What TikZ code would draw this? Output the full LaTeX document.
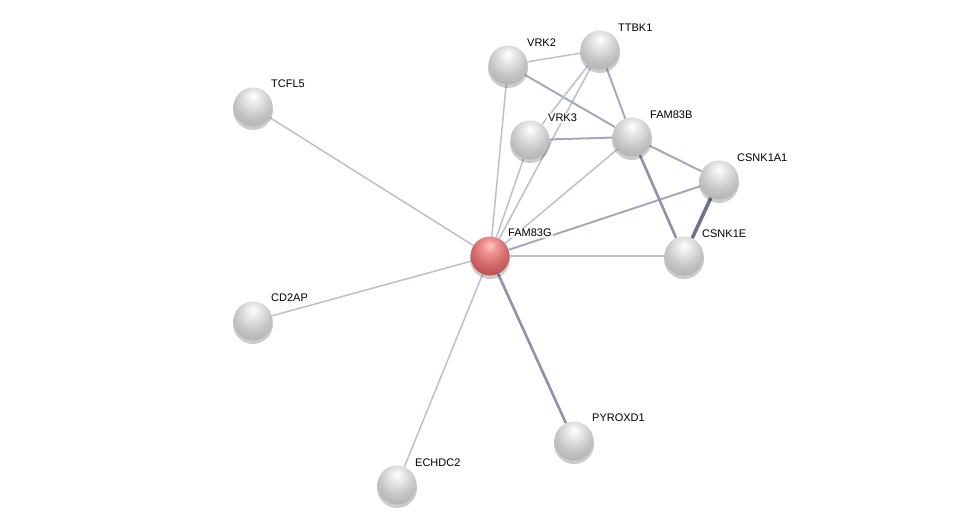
\documentclass[tikz,border=0pt]{standalone}
\usepackage{fontspec}
\setmainfont{Liberation Sans}
\usetikzlibrary{backgrounds}
\pgfdeclareradialshading{greysphere}{\pgfpoint{0bp}{14bp}}{%
  color(0bp)=(white); color(8bp)=(white!92!black); color(22bp)=(white!78!black);
  color(40bp)=(white!66!black); color(56bp)=(white!50!black); color(80bp)=(white!45!black)}
\pgfdeclareradialshading{redsphere}{\pgfpoint{0bp}{14bp}}{%
  color(0bp)=(red!20!white); color(8bp)=(red!38!white!95!black); color(22bp)=(red!50!white!82!black);
  color(40bp)=(red!60!white!68!black); color(56bp)=(red!65!white!50!black); color(80bp)=(red!65!white!45!black)}
\tikzset{
  prot/.style={circle, minimum size=39pt, inner sep=0pt, shading=greysphere},
  protred/.style={circle, minimum size=39pt, inner sep=0pt, shading=redsphere},
  lbl/.style={anchor=west, font=\fontsize{11}{13}\selectfont, inner sep=1pt, fill=white, fill opacity=0.8, text opacity=1},
  edge/.style={draw=edgecol, line width=1.5pt},
  edgemid/.style={draw=edgemid, line width=2pt},
  edgedark/.style={draw=edgedark, line width=2.6pt},
  edgeheavy/.style={draw=edgeheavy, line width=3.6pt},
}
\definecolor{edgecol}{HTML}{BCBFD0}
\definecolor{edgemid}{HTML}{A5A9BE}
\definecolor{edgedark}{HTML}{8E92AA}
\definecolor{edgeheavy}{HTML}{6E7390}
\begin{document}
\begin{tikzpicture}[x=1pt,y=-1pt]
\useasboundingbox (0,0) rectangle (976,530);
% shadows
\foreach \p in {(600,50),(508,65),(530,140),(632,137),(719,180),(684,256),(490,256),(253,107),(253,321),(397,485),(574,441)}
  \fill[black, opacity=0.2] \p ++(0,3) circle (20pt);
\node[protred] (FAM83G) at (490,256) {};
\node[prot] (TTBK1) at (600,50) {};
\node[prot] (VRK2) at (508,65) {};
\node[prot] (VRK3) at (530,140) {};
\node[prot] (FAM83B) at (632,137) {};
\node[prot] (CSNK1A1) at (719,180) {};
\node[prot] (CSNK1E) at (684,256) {};
\node[prot] (TCFL5) at (253,107) {};
\node[prot] (CD2AP) at (253,321) {};
\node[prot] (ECHDC2) at (397,485) {};
\node[prot] (PYROXD1) at (574,441) {};
\node[lbl] (lFAM83G) at (507,233) {FAM83G};
\node[lbl] (lTTBK1) at (617,28) {TTBK1};
\node[lbl] (lVRK2) at (526,43) {VRK2};
\node[lbl] (lVRK3) at (547,118) {VRK3};
\node[lbl] (lFAM83B) at (649,115) {FAM83B};
\node[lbl] (lCSNK1A1) at (736,158) {CSNK1A1};
\node[lbl] (lCSNK1E) at (701,234) {CSNK1E};
\node[lbl] (lTCFL5) at (270,84) {TCFL5};
\node[lbl] (lCD2AP) at (270,298) {CD2AP};
\node[lbl] (lECHDC2) at (414,463) {ECHDC2};
\node[lbl] (lPYROXD1) at (591,418) {PYROXD1};
\begin{scope}[on background layer]
\draw[edge] (FAM83G) -- (TCFL5);
\draw[edge] (FAM83G) -- (CD2AP);
\draw[edge] (FAM83G) -- (ECHDC2);
\draw[edgedark] (FAM83G) -- (PYROXD1);
\draw[edge] (FAM83G) -- (VRK2);
\draw[edge] (FAM83G) -- (VRK3);
\draw[edge] (FAM83G) -- (TTBK1);
\draw[edge] (FAM83G) -- (FAM83B);
\draw[edgemid] (FAM83G) -- (CSNK1A1);
\draw[edge] (FAM83G) -- (CSNK1E);
\draw[edge] (VRK2) -- (TTBK1);
\draw[edgemid] (VRK2) -- (FAM83B);
\draw[edge] (VRK3) -- (TTBK1);
\draw[edgemid] (VRK3) -- (FAM83B);
\draw[edgemid] (TTBK1) -- (FAM83B);
\draw[edgemid] (FAM83B) -- (CSNK1A1);
\draw[edgedark] (FAM83B) -- (CSNK1E);
\draw[edgeheavy] (CSNK1A1) -- (CSNK1E);
\end{scope}
\end{tikzpicture}
\end{document}
